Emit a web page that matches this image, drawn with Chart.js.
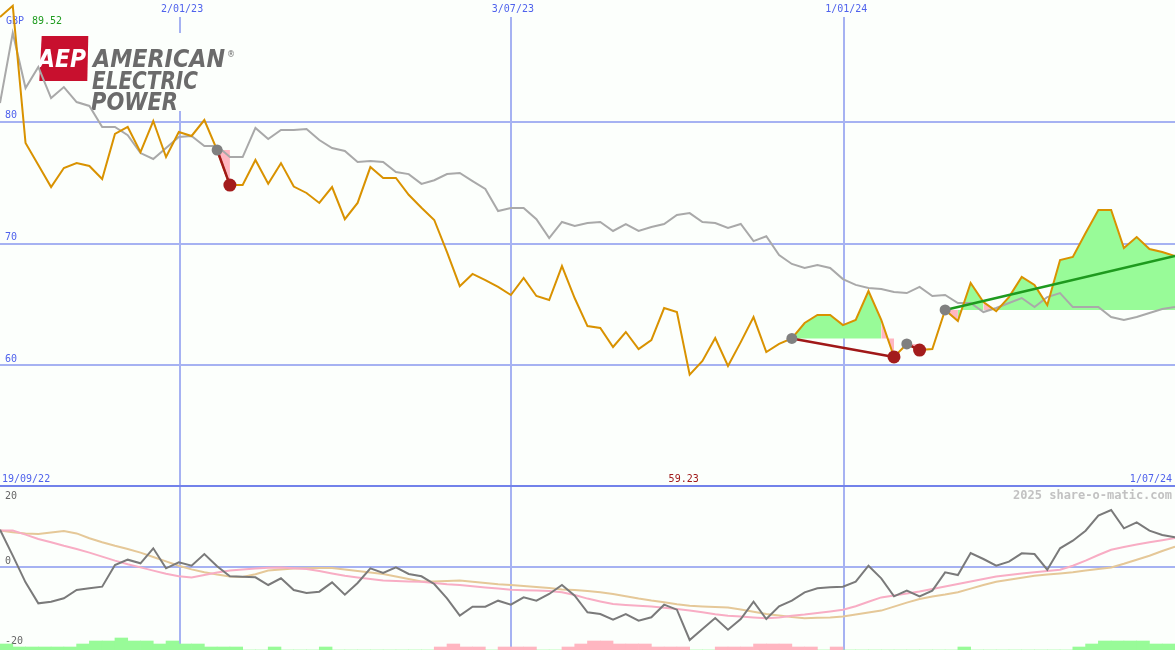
<!DOCTYPE html>
<html><head><meta charset="utf-8">
<script src="https://cdn.jsdelivr.net/npm/chart.js@4.4.1/dist/chart.umd.min.js"></script>
<style>
html,body{margin:0;padding:0;background:#fcfffc;overflow:hidden}
#wrap{position:relative;width:1175px;height:650px;background:#fcfffc}
#c1{position:absolute;left:0;top:0}
#c2{position:absolute;left:0;top:487px}
</style></head><body>
<div id="wrap">
<canvas id="c1" width="1175" height="487"></canvas>
<canvas id="c2" width="1175" height="163"></canvas>
</div>
<script>
// ---------- DATA (weekly points, index 0 = 19/09/22, index 92 = 1/07/24) ----------
const startLabel = '19/09/22';
const endLabel = '1/07/24';
const currency = 'GBP';
const gridDateLabels = ['2/01/23', '3/07/23', '1/01/24'];
const gridDatePos = [14.1, 40.0, 66.1];
const priceTicks = [80, 70, 60];
const oscTicks = [20, 0, -20];

const price = [88.6, 89.52, 78.25, 76.45, 74.64, 76.2, 76.6, 76.37, 75.3, 79.0,
  79.57, 77.5, 80.06, 77.1, 79.16, 78.83, 80.14, 77.68, 74.8, 74.8,
  76.86, 74.9, 76.6, 74.68, 74.15, 73.33, 74.64, 72.0, 73.33, 76.28,
  75.38, 75.38, 74.0, 72.94, 71.93, 69.3, 66.5, 67.5, 67.0, 66.43,
  65.77, 67.17, 65.69, 65.36, 68.15, 65.5, 63.22, 63.06, 61.5, 62.73,
  61.33, 62.07, 64.7, 64.37, 59.23, 60.35, 62.24, 59.94, 61.9, 63.96,
  61.09, 61.75, 62.2, 63.47, 64.13, 64.13, 63.3, 63.72, 66.1, 63.72,
  60.68, 61.75, 61.25, 61.33, 64.54, 63.63, 66.76, 65.2, 64.45, 65.6,
  67.25, 66.6, 64.95, 68.64, 68.9, 70.86, 72.75, 72.75, 69.63, 70.53,
  69.55, 69.3, 68.97];

const relative = [81.54, 87.29, 82.77, 84.5, 81.95, 82.85, 81.62, 81.3, 79.57, 79.57,
  78.9, 77.43, 76.94, 77.84, 78.75, 78.83, 78.0, 78.0, 77.1, 77.1,
  79.49, 78.58, 79.32, 79.32, 79.4, 78.5, 77.84, 77.6, 76.7, 76.78,
  76.7, 75.87, 75.7, 74.9, 75.2, 75.7, 75.79, 75.13, 74.48, 72.67,
  72.92, 72.92, 72.0, 70.45, 71.77, 71.44, 71.68, 71.77, 71.03, 71.6,
  71.03, 71.36, 71.6, 72.34, 72.5, 71.77, 71.68, 71.27, 71.6, 70.2,
  70.6, 69.06, 68.32, 67.99, 68.23, 67.99, 67.08, 66.6, 66.35, 66.26,
  66.02, 65.93, 66.43, 65.69, 65.77, 65.11, 65.11, 64.37, 64.7, 65.11,
  65.52, 64.78, 65.6, 65.93, 64.78, 64.78, 64.78, 63.96, 63.72, 63.96,
  64.29, 64.62, 64.78];

const tradeEntry = [17, 62, 71, 74];
const tradeExit = [18, 70, 72, null];

const oscillator = [9.33, 2.83, -3.83, -9.08, -8.67, -7.83, -5.75, -5.33, -4.92, 0.5,
  1.83, 0.92, 4.67, -0.33, 1.17, 0.33, 3.25, 0.17, -2.33, -2.42,
  -2.58, -4.5, -2.83, -5.75, -6.5, -6.17, -3.83, -6.92, -4.0, -0.33,
  -1.5, -0.08, -1.75, -2.33, -4.25, -7.83, -12.17, -9.92, -9.92, -8.42,
  -9.42, -7.58, -8.42, -6.75, -4.5, -7.17, -11.33, -11.75, -13.17, -11.75,
  -13.42, -12.58, -9.42, -10.67, -18.25, -15.5, -12.75, -15.67, -13.0, -8.67,
  -13.0, -9.83, -8.42, -6.33, -5.33, -5.08, -4.92, -3.67, 0.33, -2.83,
  -7.33, -5.92, -7.33, -5.92, -1.33, -2.0, 3.5, 2.0, 0.33, 1.33,
  3.42, 3.25, -0.67, 4.67, 6.58, 9.08, 12.83, 14.25, 9.67, 11.17,
  9.08, 8.0, 7.42];

const oscFast = [9.1, 9.1, 8.1, 7.0, 6.2, 5.3, 4.5, 3.6, 2.6, 1.6,
  0.7, -0.1, -0.9, -1.7, -2.3, -2.6, -2.0, -1.4, -0.9, -0.6,
  -0.4, -0.2, -0.1, -0.3, -0.5, -1.0, -1.6, -2.2, -2.6, -3.0,
  -3.4, -3.5, -3.6, -3.7, -4.0, -4.3, -4.5, -4.8, -5.1, -5.4,
  -5.7, -5.8, -5.9, -6.0, -6.3, -7.0, -7.9, -8.6, -9.25, -9.5,
  -9.7, -9.9, -10.2, -10.5, -10.9, -11.3, -11.8, -12.2, -12.4, -12.6,
  -12.8, -12.6, -12.2, -11.9, -11.5, -11.1, -10.7, -9.8, -8.7, -7.6,
  -7.1, -6.6, -6.1, -5.5, -4.9, -4.25, -3.6, -3.0, -2.4, -2.0,
  -1.6, -1.3, -1.0, -0.7, 0.3, 1.6, 3.0, 4.3, 5.0, 5.6,
  6.2, 6.7, 7.25];

const oscSlow = [9.1, 8.7, 8.4, 8.25, 8.6, 9.0, 8.4, 7.2, 6.2, 5.3,
  4.5, 3.6, 2.5, 1.4, 0.3, -0.6, -1.3, -1.9, -2.4, -2.5,
  -1.8, -0.9, -0.6, -0.4, -0.3, -0.25, -0.25, -0.6, -1.0, -1.4,
  -1.75, -2.4, -3.0, -3.6, -3.6, -3.5, -3.4, -3.7, -4.0, -4.3,
  -4.5, -4.75, -5.0, -5.25, -5.6, -5.75, -6.0, -6.3, -6.75, -7.3,
  -7.9, -8.4, -8.8, -9.3, -9.7, -9.85, -10.0, -10.1, -10.6, -11.2,
  -11.75, -12.1, -12.5, -12.8, -12.7, -12.6, -12.4, -11.9, -11.4, -10.9,
  -9.9, -8.9, -8.0, -7.4, -6.9, -6.3, -5.4, -4.5, -3.7, -3.2,
  -2.7, -2.2, -1.9, -1.6, -1.3, -0.9, -0.5, -0.1, 0.8, 1.8,
  2.8, 4.0, 5.1];

const histogram = [2, 1, 1, 1, 1, 1, 2, 3, 3, 4,
  3, 3, 2, 3, 2, 2, 1, 1, 1, 0,
  0, 1, 0, 0, 0, 1, 0, 0, 0, 0,
  0, 0, 0, 0, -1, -2, -1, -1, 0, -1,
  -1, -1, 0, 0, -1, -2, -3, -3, -2, -2,
  -2, -1, -1, -1, 0, 0, -1, -1, -1, -2,
  -2, -2, -1, -1, 0, -1, 0, 0, 0, 0,
  0, 0, 0, 0, 0, 1, 0, 0, 0, 0,
  0, 0, 0, 0, 1, 2, 3, 3, 3, 3,
  2, 2];

// ---------- STYLE ----------
const BG = '#fcfffc';
const GRID = '#a6b2f2';
const SEP = '#7282ea';
const BLUE_TXT = '#4f62ec';
const GREEN_FILL = '#98fb98';
const PINK_FILL = '#ffb6c1';
const ORANGE = '#d99200';
const FONT = '10px "DejaVu Sans Mono", monospace';
const last = price.length - 1;

function hline(ctx, x1, x2, y) { ctx.beginPath(); ctx.moveTo(x1, y); ctx.lineTo(x2, y); ctx.stroke(); }
function vline(ctx, x, y1, y2) { ctx.beginPath(); ctx.moveTo(x, y1); ctx.lineTo(x, y2); ctx.stroke(); }

const topDecor = {
  id: 'topDecor',
  beforeDatasetsDraw(chart) {
    const {ctx, width, height} = chart;
    const xs = chart.scales.x, ys = chart.scales.y;
    ctx.save();
    ctx.strokeStyle = GRID; ctx.lineWidth = 2;
    priceTicks.forEach(v => hline(ctx, 0, width, Math.round(ys.getPixelForValue(v))));
    gridDatePos.forEach(p => vline(ctx, Math.round(xs.getPixelForValue(p)), 17, height));
    ctx.strokeStyle = SEP; ctx.lineWidth = 2;
    hline(ctx, 0, width, height - 1);

    // logo
    ctx.fillStyle = BG; ctx.fillRect(90, 33, 146, 78);
    ctx.fillStyle = '#c8102e';
    ctx.beginPath(); ctx.moveTo(41.7, 36); ctx.lineTo(88.3, 36); ctx.lineTo(87.3, 81); ctx.lineTo(39.3, 81); ctx.closePath(); ctx.fill();
    ctx.textBaseline = 'alphabetic'; ctx.textAlign = 'left';
    ctx.fillStyle = '#ffffff';
    ctx.font = 'oblique bold 24px "DejaVu Sans", sans-serif';
    ctx.fillText('AEP', 38, 67, 48);
    ctx.fillStyle = '#6b6b6b';
    ctx.fillText('AMERICAN', 93, 67, 132);
    ctx.fillText('ELECTRIC', 92, 88.5, 106);
    ctx.fillText('POWER', 91, 109.5, 87);
    ctx.font = '8px "DejaVu Sans", sans-serif';
    ctx.fillText('®', 227, 57);

    // labels
    ctx.font = FONT; ctx.textBaseline = 'middle';
    ctx.textAlign = 'left';
    ctx.fillStyle = BLUE_TXT; ctx.fillText(currency, 6, 21);
    ctx.fillStyle = '#1f9c1f'; ctx.fillText(Math.max(...price).toFixed(2), 32, 21);
    ctx.fillStyle = BLUE_TXT;
    priceTicks.forEach(v => ctx.fillText(String(v), 5, ys.getPixelForValue(v) - 6));
    ctx.textAlign = 'center';
    gridDatePos.forEach((p, k) => ctx.fillText(gridDateLabels[k], xs.getPixelForValue(p) + 2, 9));
    ctx.textAlign = 'left'; ctx.fillText(startLabel, 2, 479);
    ctx.textAlign = 'right'; ctx.fillText(endLabel, 1172, 479);
    const minV = Math.min(...price), minI = price.indexOf(minV);
    ctx.textAlign = 'center'; ctx.fillStyle = '#a01a1a';
    ctx.fillText(minV.toFixed(2), xs.getPixelForValue(minI) - 6, 479);
    ctx.restore();
  }
};

const botDecor = {
  id: 'botDecor',
  beforeDatasetsDraw(chart) {
    const {ctx, width, height} = chart;
    const xs = chart.scales.x, ys = chart.scales.y;
    ctx.save();
    ctx.strokeStyle = GRID; ctx.lineWidth = 2;
    hline(ctx, 0, width, Math.round(ys.getPixelForValue(0)));
    gridDatePos.forEach(p => vline(ctx, Math.round(xs.getPixelForValue(p)), 0, height));
    ctx.font = FONT; ctx.textBaseline = 'middle'; ctx.textAlign = 'left'; ctx.fillStyle = '#666666';
    oscTicks.forEach(v => {
      let yy = ys.getPixelForValue(v) - 6;
      yy = Math.min(Math.max(yy, 9), height - 8);
      ctx.fillText(String(v), 5, yy);
    });
    ctx.font = 'bold 12px "DejaVu Sans Mono", monospace';
    ctx.textAlign = 'right'; ctx.fillStyle = '#c2c2c2';
    ctx.fillText('2025 share-o-matic.com', 1172, 9);
    ctx.restore();
  }
};

// ---------- TOP CHART ----------
const pts = arr => arr.map((v, i) => ({x: i, y: v}));
const datasets = [];
tradeEntry.forEach((e, k) => {
  const end = tradeExit[k] === null ? last : tradeExit[k];
  const base = price[e];
  const d = [];
  for (let i = e; i <= end; i++) d.push({x: i, y: price[i]});
  datasets.push({
    data: d, borderColor: 'rgba(0,0,0,0)', borderWidth: 1, pointRadius: 0,
    backgroundColor: GREEN_FILL, fill: {value: base}, order: 20,
    segment: {backgroundColor: c => (c.p1.parsed.y >= base ? GREEN_FILL : PINK_FILL)}
  });
});
datasets.push({data: pts(relative), borderColor: '#a9a9a9', borderWidth: 2, pointRadius: 0, fill: false, order: 15});
datasets.push({data: pts(price), borderColor: ORANGE, borderWidth: 2, pointRadius: 0, fill: false, order: 14});
tradeEntry.forEach((e, k) => {
  const end = tradeExit[k] === null ? last : tradeExit[k];
  const col = price[end] >= price[e] ? '#1e9a1e' : '#a01818';
  datasets.push({data: [{x: e, y: price[e]}, {x: end, y: price[end]}], borderColor: col, borderWidth: 2.5, pointRadius: 0, fill: false, order: 12});
});
datasets.push({data: tradeEntry.map(i => ({x: i, y: price[i]})), showLine: false, pointRadius: 5.5, pointBackgroundColor: '#808080', pointBorderWidth: 0, order: 11});
datasets.push({data: tradeExit.filter(i => i !== null).map(i => ({x: i, y: price[i]})), showLine: false, pointRadius: 6.5, pointBackgroundColor: '#a31c1c', pointBorderWidth: 0, order: 10});

const common = {
  responsive: false, animation: false, devicePixelRatio: 1, events: [],
  layout: {padding: 0, autoPadding: false},
  plugins: {legend: {display: false}, tooltip: {enabled: false}},
  elements: {line: {tension: 0}}
};

new Chart(document.getElementById('c1'), {
  type: 'line',
  data: {datasets},
  options: Object.assign({}, common, {
    scales: {
      x: {type: 'linear', min: 0, max: last, offset: false, display: false},
      y: {type: 'linear', min: 50, max: 90, display: false}
    }
  }),
  plugins: [topDecor]
});

// ---------- BOTTOM CHART ----------
new Chart(document.getElementById('c2'), {
  type: 'line',
  data: {datasets: [
    {type: 'bar', data: histogram.map((v, i) => ({x: i + 0.5, y: Math.abs(v)})), yAxisID: 'yh',
     backgroundColor: histogram.map(v => (v >= 0 ? GREEN_FILL : PINK_FILL)), borderWidth: 0,
     barPercentage: 1, categoryPercentage: 1, order: 20},
    {data: pts(oscSlow), borderColor: '#e5c898', borderWidth: 2, pointRadius: 0, fill: false, order: 12},
    {data: pts(oscFast), borderColor: '#f8adc4', borderWidth: 2, pointRadius: 0, fill: false, order: 11},
    {data: pts(oscillator), borderColor: '#7a7a7a', borderWidth: 2, pointRadius: 0, fill: false, order: 10}
  ]},
  options: Object.assign({}, common, {
    scales: {
      x: {type: 'linear', min: 0, max: last, offset: false, display: false},
      y: {type: 'linear', min: -20.75, max: 20, display: false},
      yh: {type: 'linear', min: 0, max: 163 / 3, display: false}
    }
  }),
  plugins: [botDecor]
});
</script>
</body></html>
